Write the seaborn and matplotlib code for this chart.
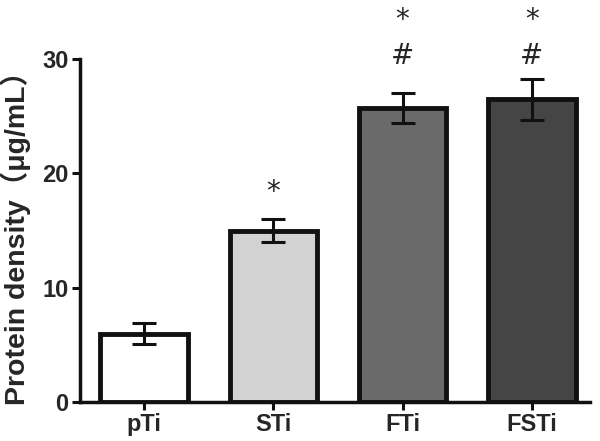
import matplotlib
matplotlib.use("Agg")
import matplotlib.pyplot as plt
import seaborn as sns
import pandas as pd

categories = ["pTi", "STi", "FTi", "FSTi"]
means = [6.0, 15.0, 25.7, 26.5]
errors = [0.9, 1.0, 1.3, 1.8]
colors = ["#ffffff", "#d2d2d2", "#6a6a6a", "#454545"]
stars = ["", "*", "*", "*"]
hashes = ["", "", "#", "#"]
yticks = [0, 10, 20, 30]

sns.set_style("ticks")
plt.rcParams['font.family'] = ['Liberation Sans', 'Noto Sans CJK SC', 'DejaVu Sans']

df = pd.DataFrame({"group": categories, "value": means})
fig = plt.figure(figsize=(6, 4.41), dpi=100)
ax = fig.add_axes([0.133, 0.088, 0.85, 0.778])
sns.barplot(data=df, x="group", y="value", hue="group", palette=colors,
            legend=False, width=0.68, edgecolor="#111111", linewidth=3.5,
            errorbar=None, ax=ax, saturation=1)
ax.errorbar(range(len(categories)), means, yerr=errors, fmt="none",
            ecolor="#111111", elinewidth=2.2, capsize=8.5, capthick=2.2, zorder=5)

for i in range(len(categories)):
    top = means[i] + errors[i]
    if hashes[i]:
        ax.text(i, 30.3, hashes[i], ha="center", va="center", fontsize=20,
                family="DejaVu Sans", clip_on=False)
        ax.text(i, 33.4, stars[i], ha="center", va="center",
                fontsize=20, family="DejaVu Sans", clip_on=False)
    elif stars[i]:
        ax.text(i, top + 2.4, stars[i], ha="center", va="center", fontsize=20,
                family="DejaVu Sans")

ax.set_ylim(0, 30)
ax.set_xlim(-0.5, 3.45)
ax.set_yticks(yticks)
ax.set_xlabel("")
ax.set_ylabel("Protein density（μg/mL）", fontsize=20.5, fontweight="bold")
ax.yaxis.set_label_coords(-0.095, 0.5)
for s in ["top", "right"]:
    ax.spines[s].set_visible(False)
for s in ["left", "bottom"]:
    ax.spines[s].set_linewidth(2.5)
    ax.spines[s].set_color("#111111")
ax.tick_params(axis="both", width=2.2, length=6, pad=2, color="#111111", labelsize=17)
for lab in ax.get_xticklabels() + ax.get_yticklabels():
    lab.set_fontweight("bold")

fig.savefig("out.png", dpi=100)
